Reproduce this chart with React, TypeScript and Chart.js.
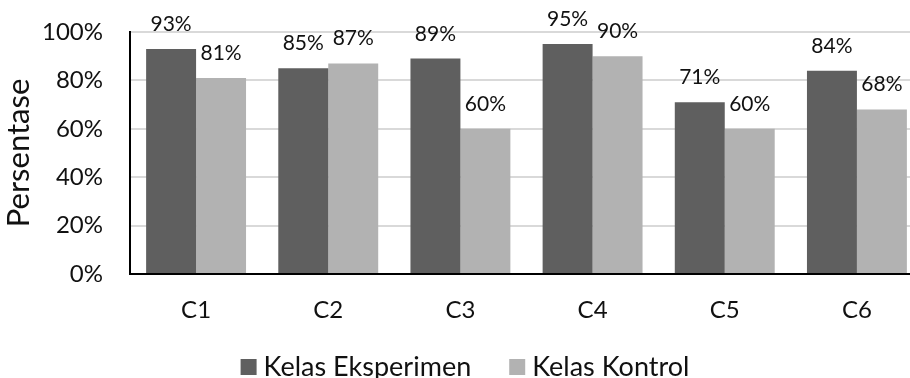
import { useEffect, useRef } from "react";
import { Chart, registerables } from "chart.js";

Chart.register(...registerables);

const categories = ["C1", "C2", "C3", "C4", "C5", "C6"];
const eksperimen = [93, 85, 89, 95, 71, 84];
const kontrol = [81, 87, 60, 90, 60, 68];
const seriesNames = ["Kelas Eksperimen", "Kelas Kontrol"];
const seriesColors = ["#5f5f5f", "#b2b2b2"];
const yTitle = "Persentase";
const yMin = 0;
const yMax = 100;
const yStep = 20;

const FONT = "Lato";
const TEXT = "#111111";

const valueLabels = {
  id: "valueLabels",
  afterDatasetsDraw(chart: any) {
    const ctx = chart.ctx;
    ctx.save();
    ctx.font = `21px ${FONT}`;
    ctx.fillStyle = TEXT;
    ctx.textAlign = "center";
    ctx.textBaseline = "alphabetic";
    chart.data.datasets.forEach((ds: any, di: number) => {
      const meta = chart.getDatasetMeta(di);
      meta.data.forEach((el: any, i: number) => {
        ctx.fillText(`${ds.data[i]}%`, el.x, el.y - 18);
      });
    });
    ctx.restore();
  },
};

// Legend drawn beneath the axis, centred on the canvas.
const bottomLegend = {
  id: "bottomLegend",
  afterDraw(chart: any) {
    const ctx = chart.ctx;
    ctx.save();
    ctx.font = `27px ${FONT}`;
    ctx.textBaseline = "alphabetic";
    ctx.textAlign = "left";
    const box = 16;
    const gapText = 7;
    const gapItem = 38;
    const items = chart.data.datasets.map((ds: any) => ({
      text: ds.label,
      color: ds.backgroundColor,
      w: ctx.measureText(ds.label).width,
    }));
    const total =
      items.reduce((a: number, it: any) => a + box + gapText + it.w, 0) + gapItem * (items.length - 1);
    let x = chart.width / 2 - total / 2;
    const baseline = 376;
    items.forEach((it: any) => {
      ctx.fillStyle = it.color;
      ctx.fillRect(x, 359, box, box);
      x += box + gapText;
      ctx.fillStyle = TEXT;
      ctx.fillText(it.text, x, baseline);
      x += it.w + gapItem;
    });
    ctx.restore();
  },
};

export default function App() {
  const ref = useRef<HTMLCanvasElement | null>(null);
  useEffect(() => {
    if (!ref.current) return;
    const chart = new Chart(ref.current, {
      type: "bar",
      data: {
        labels: categories,
        datasets: [
          {
            label: seriesNames[0],
            data: eksperimen,
            backgroundColor: seriesColors[0],
            categoryPercentage: 0.756,
            barPercentage: 1,
          },
          {
            label: seriesNames[1],
            data: kontrol,
            backgroundColor: seriesColors[1],
            categoryPercentage: 0.756,
            barPercentage: 1,
          },
        ],
      },
      options: {
        responsive: false,
        animation: false,
        devicePixelRatio: 1,
        layout: { padding: { left: 0, right: 7, top: 32, bottom: 0 } },
        plugins: {
          tooltip: { enabled: false },
          legend: { display: false },
        },
        scales: {
          x: {
            grid: { display: false, drawTicks: false },
            border: { display: true, color: "#000000", width: 2 },
            ticks: { font: { family: FONT, size: 24 }, color: TEXT, padding: 22 },
            afterFit: (s: any) => {
              s.height = 104;
            },
          },
          y: {
            min: yMin,
            max: yMax,
            grid: { color: "#d9d9d9", lineWidth: 2, drawTicks: false },
            border: { display: true, color: "#000000", width: 2 },
            ticks: {
              stepSize: yStep,
              font: { family: FONT, size: 24 },
              color: TEXT,
              padding: 27,
              callback: (v: any) => `${v}%`,
            },
            title: {
              display: true,
              text: yTitle,
              font: { family: FONT, size: 31 },
              color: TEXT,
              padding: { top: 0, bottom: 0 },
            },
            afterFit: (s: any) => {
              s.width = 130;
              s.paddingTop = 0;
              s.paddingBottom = 0;
            },
          },
        },
      },
      plugins: [valueLabels, bottomLegend],
    });
    return () => chart.destroy();
  }, []);
  return (
    <div
      style={{
        position: "fixed",
        left: 0,
        top: 0,
        width: 910,
        height: 378,
        overflow: "hidden",
        background: "#ffffff",
      }}
    >
      <canvas ref={ref} width={930} height={378} style={{ width: 930, height: 378, display: "block" }} />
    </div>
  );
}
